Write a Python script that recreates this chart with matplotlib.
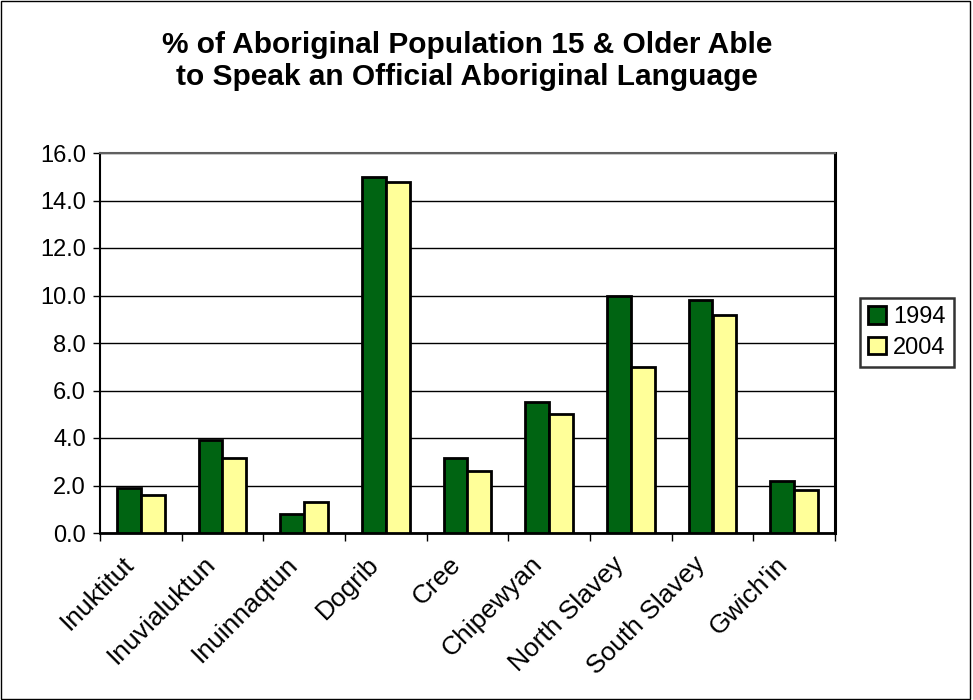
import matplotlib
matplotlib.use("Agg")
import matplotlib.pyplot as plt
import matplotlib.transforms as mtransforms
import numpy as np

categories = ["Inuktitut", "Inuvialuktun", "Inuinnaqtun", "Dogrib", "Cree",
              "Chipewyan", "North Slavey", "South Slavey", "Gwich'in"]
values_1994 = [1.9, 3.9, 0.8, 15.0, 3.15, 5.5, 10.0, 9.8, 2.2]
values_2004 = [1.6, 3.15, 1.3, 14.8, 2.6, 5.0, 7.0, 9.2, 1.8]
series_labels = ["1994", "2004"]
y_ticks = [0, 2, 4, 6, 8, 10, 12, 14, 16]

plt.rcParams['font.family'] = ['Liberation Sans', 'DejaVu Sans']

fig = plt.figure(figsize=(9.73, 7.0), dpi=100)
W, H = 973, 700
ax = fig.add_axes([100 / W, 1 - 533 / H, 735 / W, 380 / H])

x = np.arange(len(categories))
bw = 0.29
ax.bar(x - bw / 2, values_1994, bw, color="#006412", edgecolor="black",
       linewidth=2, label=series_labels[0], zorder=3)
ax.bar(x + bw / 2, values_2004, bw, color="#FFFF99", edgecolor="black",
       linewidth=2, label=series_labels[1], zorder=3)

ax.set_xlim(-0.5, len(categories) - 0.5)
ax.set_ylim(0, 16)
ax.set_yticks(y_ticks)
ax.set_yticklabels([f"{v:.1f}" for v in y_ticks], fontsize=17)
ax.yaxis.grid(True, color="black", linewidth=1, zorder=0)

ax.set_xticks(np.arange(len(categories) + 1) - 0.5, minor=False)
ax.set_xticklabels([])
ax.set_xticks(x, minor=True)
ax.set_xticklabels(categories, minor=True, rotation=45, ha="right",
                   rotation_mode="anchor", fontsize=19)
ax.tick_params(axis="x", which="major", direction="out", length=6, width=1)
ax.tick_params(axis="x", which="minor", length=0, pad=10)
ax.tick_params(axis="y", direction="out", length=5, width=1, pad=5)

offset = mtransforms.ScaledTranslation(-19 / 100, -5 / 100, fig.dpi_scale_trans)
for lbl in ax.get_xticklabels(minor=True):
    lbl.set_transform(lbl.get_transform() + offset)

ax.spines["left"].set_linewidth(1.5)
ax.spines["bottom"].set_linewidth(2)
ax.spines["right"].set_linewidth(2.2)
ax.spines["right"].set_color("black")
ax.spines["top"].set_linewidth(1.5)
ax.spines["top"].set_color("#606060")

fig.text(467 / W, 1 - 61 / H,
         "% of Aboriginal Population 15 & Older Able\nto Speak an Official Aboriginal Language",
         ha="center", va="center", fontsize=21.5, fontweight="bold", linespacing=1.2)

leg = fig.legend(loc="upper left", bbox_to_anchor=(860 / W, 1 - 298 / H),
                 fontsize=17, frameon=True, fancybox=False, edgecolor="black",
                 handlelength=0.75, handleheight=0.75, handletextpad=0.3,
                 borderpad=0.35, labelspacing=0.35, borderaxespad=0)
leg.get_frame().set_linewidth(1.8)

border = plt.Rectangle((0.001, 0.002), 0.996, 0.996, transform=fig.transFigure,
                       fill=False, edgecolor="black", linewidth=1)
fig.add_artist(border)

fig.savefig("out.png", dpi=100)
